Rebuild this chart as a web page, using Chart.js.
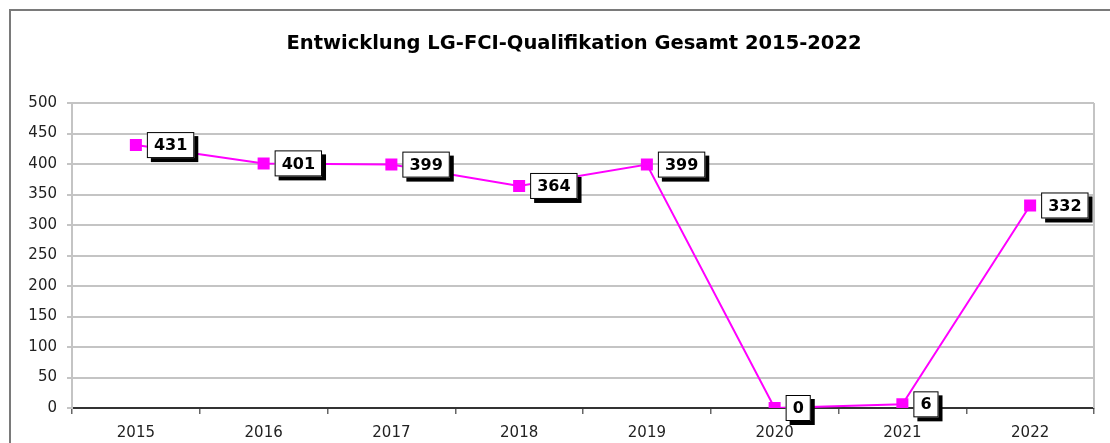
<!DOCTYPE html>
<html>
<head>
<meta charset="utf-8">
<script src="https://cdn.jsdelivr.net/npm/chart.js@4.4.1/dist/chart.umd.min.js"></script>
<style>
  html, body { margin: 0; padding: 0; background: #fff; }
  #wrap { position: relative; width: 1110px; height: 443px; }
  #frame { position: absolute; left: 9px; top: 9px; right: -10px; bottom: -10px;
           border-left: 2px solid #7a7a7a; border-top: 2px solid #7a7a7a; pointer-events: none; }
  canvas { position: absolute; left: 0; top: 0; }
</style>
</head>
<body>
<div id="wrap">
  <canvas id="chart" width="1110" height="443"></canvas>
  <div id="frame"></div>
</div>
<script>
const years = ['2015', '2016', '2017', '2018', '2019', '2020', '2021', '2022'];
const qualifikationen = [431, 401, 399, 364, 399, 0, 6, 332];
const yTicks = [0, 50, 100, 150, 200, 250, 300, 350, 400, 450, 500];
const titleText = 'Entwicklung LG-FCI-Qualifikation Gesamt 2015-2022';

/* Titel, mittig im Rahmen (nicht in der Canvas-Mitte) */
const frameTitle = {
  id: 'frameTitle',
  afterDraw(chart) {
    const { ctx } = chart;
    ctx.save();
    ctx.font = 'bold 19.5px "DejaVu Sans", Verdana, sans-serif';
    ctx.fillStyle = '#000';
    ctx.textAlign = 'center';
    ctx.textBaseline = 'middle';
    ctx.fillText(titleText, 574, 44);
    ctx.restore();
  },
};

/* Rahmen um die Zeichenfläche (rechte Kante) */
const plotBorder = {
  id: 'plotBorder',
  beforeDatasetsDraw(chart) {
    const { ctx, chartArea: a } = chart;
    ctx.save();
    ctx.strokeStyle = '#c4c4c4';
    ctx.lineWidth = 2;
    ctx.beginPath();
    ctx.moveTo(a.right, a.top);
    ctx.lineTo(a.right, a.bottom);
    ctx.stroke();
    ctx.restore();
  },
};

/* Wertkästchen mit Schatten rechts neben den Punkten */
const valueBoxes = {
  id: 'valueBoxes',
  afterDatasetsDraw(chart) {
    const { ctx } = chart;
    const meta = chart.getDatasetMeta(0);
    ctx.save();
    ctx.font = 'bold 16px "DejaVu Sans", Verdana, sans-serif';
    ctx.textBaseline = 'middle';
    ctx.textAlign = 'left';
    meta.data.forEach((pt, i) => {
      const txt = String(chart.data.datasets[0].data[i]);
      const w = ctx.measureText(txt).width + 14;
      const h = 26;
      const x = pt.x + 11, y = pt.y - h / 2;
      ctx.fillStyle = '#000';
      ctx.fillRect(x + 4, y + 4, w, h);
      ctx.fillStyle = '#fff';
      ctx.fillRect(x, y, w, h);
      ctx.strokeStyle = '#000';
      ctx.lineWidth = 1;
      ctx.strokeRect(x + 0.5, y + 0.5, w - 1, h - 1);
      ctx.fillStyle = '#000';
      ctx.fillText(txt, x + 7, pt.y + 1);
    });
    ctx.restore();
  },
};

new Chart(document.getElementById('chart').getContext('2d'), {
  type: 'line',
  data: {
    labels: years,
    datasets: [{
      data: qualifikationen,
      borderColor: '#ff00ff',
      backgroundColor: '#ff00ff',
      borderWidth: 2,
      pointStyle: 'rect',
      pointRadius: 8.5,
      pointBorderWidth: 0,
      tension: 0,
    }],
  },
  options: {
    responsive: false, animation: false,
    layout: { padding: { left: 0, right: 16, top: 103, bottom: 0 } },
    plugins: {
      legend: { display: false },
      tooltip: { enabled: false },
      title: { display: false },
    },
    scales: {
      x: {
        offset: true,
        grid: { offset: true, drawOnChartArea: false, color: '#666', tickLength: 6, lineWidth: 1.5 },
        border: { color: '#333', width: 2 },
        ticks: { color: '#222', padding: 10, maxRotation: 0,
          font: { family: '"DejaVu Sans", Verdana, sans-serif', size: 15 } },
        afterFit: s => { s.height = 35; },
      },
      y: {
        min: 0, max: 500,
        afterBuildTicks: s => { s.ticks = yTicks.map(v => ({ value: v })); },
        grid: { color: '#c4c4c4', lineWidth: 2, tickLength: 5 },
        border: { color: '#c4c4c4', width: 2 },
        ticks: { color: '#222', padding: 10,
          font: { family: '"DejaVu Sans", Verdana, sans-serif', size: 15 } },
        afterFit: s => { s.width = 72; },
      },
    },
  },
  plugins: [plotBorder, valueBoxes, frameTitle],
});
</script>
</body>
</html>
